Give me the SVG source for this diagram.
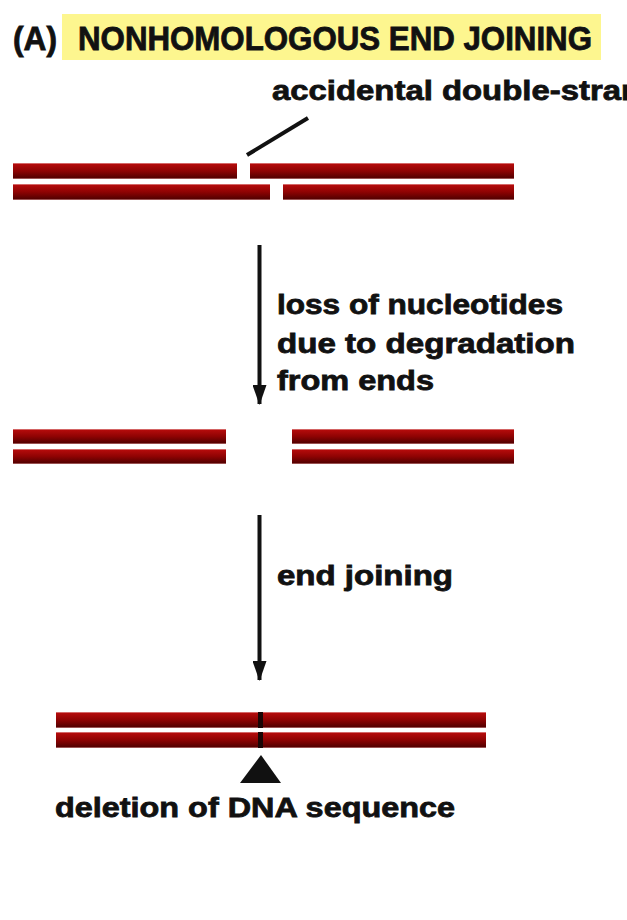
<svg xmlns="http://www.w3.org/2000/svg" width="627" height="920" viewBox="0 0 627 920">
<defs>
<linearGradient id="dna" x1="0" y1="0" x2="0" y2="1">
<stop offset="0" stop-color="#e9a3a3"/>
<stop offset="0.08" stop-color="#b30b0b"/>
<stop offset="0.5" stop-color="#8e0303"/>
<stop offset="0.92" stop-color="#560000"/>
<stop offset="1" stop-color="#c98a8a"/>
</linearGradient>
<marker id="ah" viewBox="0 0 20 14" refX="19" refY="7" markerWidth="20" markerHeight="14" markerUnits="userSpaceOnUse" orient="auto">
<path d="M0,0 L20,7 L0,14 Z" fill="#111"/>
</marker>
</defs>
<style>
text{font-family:"Liberation Sans",Arial,sans-serif;font-weight:bold;fill:#111;stroke:#111;stroke-width:0.8px}
.s{fill:url(#dna)}
.lbl{font-size:28px}
</style>
<rect width="627" height="920" fill="#fff"/>

<g id="title">
<rect x="62" y="14" width="539" height="46" fill="#fdf68f"/>
<text x="13" y="50" font-size="33" textLength="44" lengthAdjust="spacingAndGlyphs">(A)</text>
<text x="78" y="50" font-size="33" textLength="514" lengthAdjust="spacingAndGlyphs">NONHOMOLOGOUS END JOINING</text>
</g>

<g id="break-label">
<text class="lbl" x="272" y="100" textLength="486" lengthAdjust="spacingAndGlyphs">accidental double-strand break</text>
</g>

<g id="dna-broken">
<rect class="s" x="13" y="163" width="224" height="16"/>
<rect class="s" x="250" y="163" width="264" height="16"/>
<rect class="s" x="13" y="184" width="257" height="16"/>
<rect class="s" x="283" y="184" width="231" height="16"/>
</g>

<g id="dna-degraded">
<rect class="s" x="13" y="429" width="213" height="15"/>
<rect class="s" x="292" y="429" width="222" height="15"/>
<rect class="s" x="13" y="449" width="213" height="15"/>
<rect class="s" x="292" y="449" width="222" height="15"/>
</g>

<g id="dna-joined">
<rect class="s" x="56" y="712" width="430" height="16"/>
<rect class="s" x="56" y="732" width="430" height="16"/>
<rect x="258" y="712" width="5" height="16" fill="#1a0505"/>
<rect x="258" y="732" width="5" height="16" fill="#1a0505"/>
<path d="M261,755 L281,783 L240,783 Z" fill="#111"/>
</g>

<g id="step1-label">
<text class="lbl" x="277" y="314" textLength="286" lengthAdjust="spacingAndGlyphs">loss of nucleotides</text>
<text class="lbl" x="277" y="353" textLength="298" lengthAdjust="spacingAndGlyphs">due to degradation</text>
<text class="lbl" x="277" y="390" textLength="157" lengthAdjust="spacingAndGlyphs">from ends</text>
</g>

<g id="step2-label">
<text class="lbl" x="277" y="585" textLength="176" lengthAdjust="spacingAndGlyphs">end joining</text>
</g>

<g id="deletion-label">
<text class="lbl" x="55" y="817" textLength="400" lengthAdjust="spacingAndGlyphs">deletion of DNA sequence</text>
</g>

<g id="connectors" stroke="#111" fill="none">
<line x1="247" y1="155" x2="308" y2="118" stroke-width="4"/>
<line x1="259.5" y1="245" x2="259.5" y2="404" stroke-width="4" marker-end="url(#ah)"/>
<line x1="259.5" y1="515" x2="259.5" y2="680" stroke-width="4" marker-end="url(#ah)"/>
</g>
</svg>
